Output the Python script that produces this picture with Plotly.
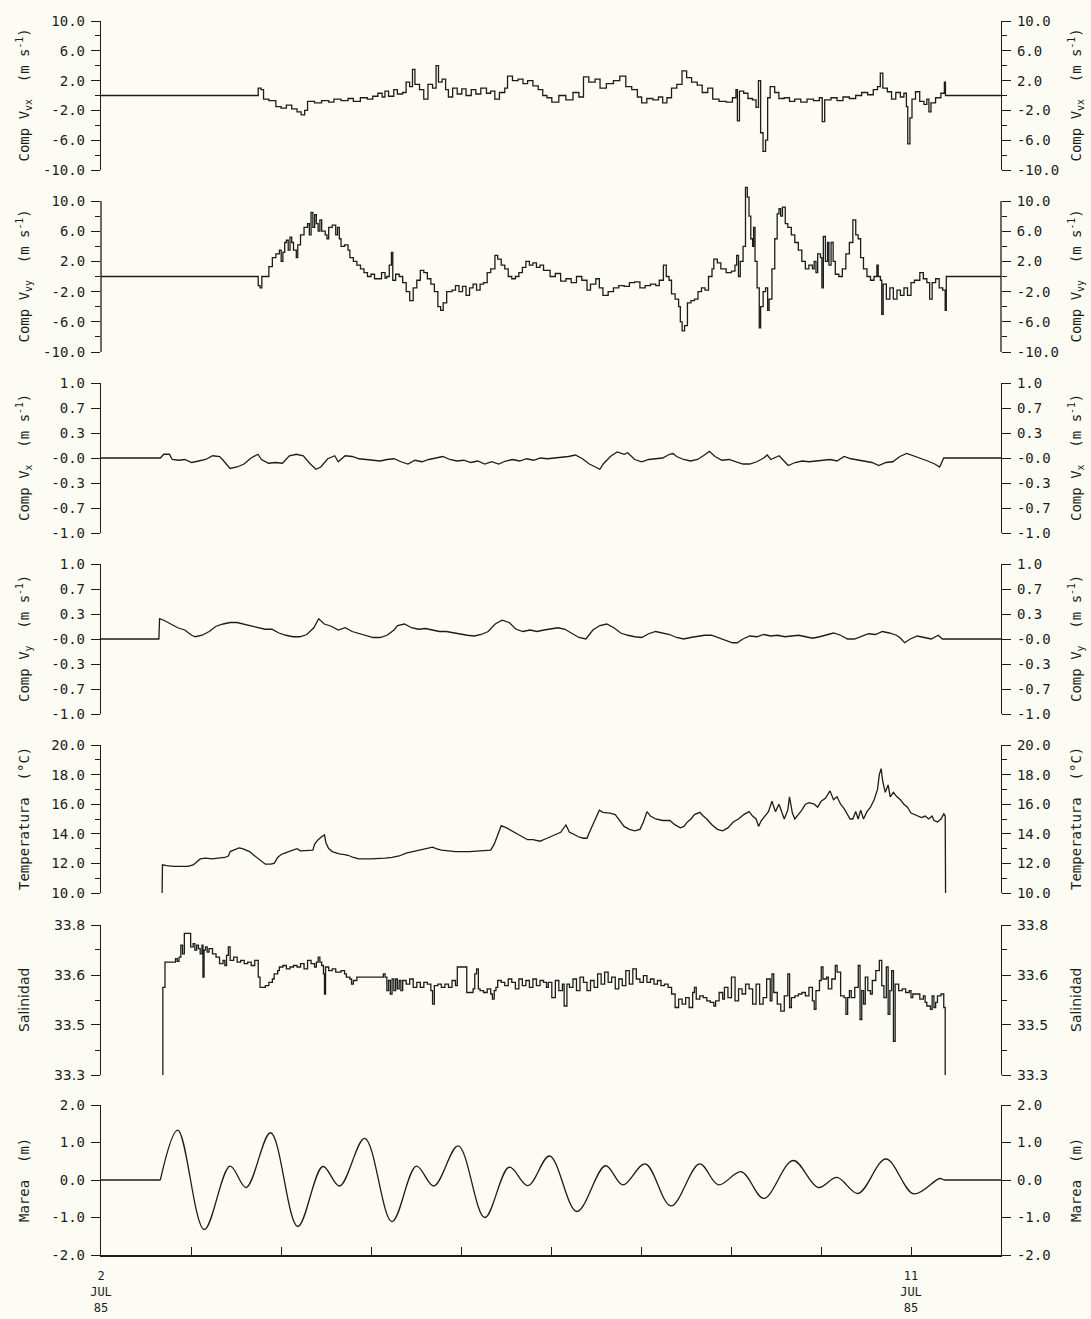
import plotly.graph_objects as go

# ---------------- data (time in days after 2 JUL 1985 00:00) ----------------
vvx_t = [0.0, 1.747, 1.778, 1.806, 1.865, 1.943, 2.001, 2.060, 2.119, 2.178,
         2.224, 2.263, 2.295, 2.373, 2.451, 2.530, 2.588, 2.667, 2.745, 2.804,
         2.882, 2.960, 3.019, 3.077, 3.124, 3.155, 3.195, 3.253, 3.293, 3.351,
         3.390, 3.429, 3.461, 3.488, 3.539, 3.586, 3.633, 3.684, 3.723, 3.750,
         3.790, 3.829, 3.860, 3.907, 3.958, 4.009, 4.056, 4.114, 4.165, 4.220,
         4.283, 4.329, 4.376, 4.427, 4.486, 4.517, 4.572, 4.634, 4.689, 4.740,
         4.799, 4.858, 4.908, 4.955,
         5.009, 5.087, 5.165, 5.244, 5.310, 5.361, 5.420, 5.490, 5.545, 5.615,
         5.694, 5.764, 5.831, 5.897, 5.960, 6.007, 6.065, 6.132, 6.194, 6.241,
         6.288, 6.339, 6.398, 6.456, 6.507, 6.562, 6.625, 6.680, 6.742, 6.797,
         6.867, 6.946, 7.016, 7.055, 7.071, 7.094, 7.141, 7.188, 7.239, 7.278,
         7.305, 7.329, 7.356, 7.384, 7.407, 7.435, 7.485, 7.532, 7.591, 7.650,
         7.708, 7.775, 7.845, 7.916, 7.982, 8.014, 8.041, 8.111, 8.178, 8.244,
         8.315, 8.385, 8.452, 8.518, 8.581, 8.628, 8.659, 8.687, 8.737, 8.784,
         8.831, 8.882, 8.921, 8.949, 8.964, 8.988, 9.011, 9.050, 9.097, 9.144,
         9.176, 9.199, 9.222, 9.273, 9.332, 9.371, 9.383, 10.0]
vvx_v = [0.0, 1.0, 0.8, -0.5, -0.7, -1.5, -1.7, -1.3, -1.8, -2.2,
         -2.6, -2.0, -0.8, -1.0, -0.7, -0.9, -0.5, -0.7, -0.4, -0.8,
         -0.3, -0.5, -0.1, 0.3, -0.2, 0.6, -0.1, 0.8, 0.2, 0.4,
         1.8, 1.2, 3.5, 1.5, 0.8, -0.5, 1.5, 1.0, 4.0, 1.8,
         2.2, 0.8, -0.2, 1.0, 0.2, 0.9, 0.0, 0.8, 0.2, 1.0,
         0.3, 0.6, -0.5, 0.4, 1.0, 2.6, 2.0, 2.2, 1.6, 2.0,
         1.3, 0.8, 0.0, -0.3,
         -0.9, 0.0, -0.6, 0.4, -0.2, 2.5, 1.8, 2.2, 1.0, 1.6,
         2.0, 2.6, 1.2, 0.8, -0.2, -1.0, -0.4, -0.6, -0.2, -1.0,
         -0.3, 1.0, 1.5, 3.3, 2.4, 1.8, 1.4, 0.4, 1.0, -0.5,
         -0.8, -0.9, -0.3, 0.8, -3.4, 0.6, 0.3, -0.4, -0.6, -1.6,
         2.0, -5.0, -7.5, -6.0, -0.3, 1.2, 0.4, -0.4, -0.3, -0.8,
         -0.5, -0.9, -0.5, -0.7, -0.3, -3.5, -0.6, -0.3, -0.7, -0.2,
         -0.4, 0.0, 0.4, 0.1, 0.8, 1.2, 3.0, 1.0, 0.5, -0.5,
         0.4, -0.2, 0.3, -1.5, -6.5, -3.0, -0.5, 0.5, -0.8, -1.2,
         -0.5, -2.2, -1.0, -0.3, 0.3, 1.8, 0.0, 0.0]

vvy_t = [0.0, 1.728, 1.747, 1.767, 1.787, 1.845, 1.865, 1.904, 1.943, 1.982,
         2.002, 2.021, 2.041, 2.060, 2.080, 2.100, 2.119, 2.139, 2.170, 2.186,
         2.217, 2.256, 2.295, 2.315, 2.334, 2.354, 2.374, 2.393, 2.413, 2.432,
         2.452, 2.491, 2.511, 2.530, 2.569, 2.608, 2.628, 2.648, 2.667, 2.706,
         2.745, 2.765, 2.804, 2.843, 2.883, 2.922, 2.961, 3.000, 3.039, 3.078,
         3.117, 3.156, 3.176, 3.203, 3.227, 3.242, 3.274, 3.313, 3.352, 3.391,
         3.430, 3.469, 3.509, 3.548, 3.587, 3.626, 3.665, 3.704, 3.743, 3.774,
         3.802, 3.841, 3.900, 3.939, 3.978, 4.017, 4.056, 4.095, 4.134, 4.173,
         4.212, 4.251, 4.291, 4.330, 4.377, 4.408, 4.447, 4.486, 4.525, 4.564,
         4.604, 4.643, 4.682, 4.721, 4.760, 4.799, 4.838, 4.878, 4.917,
         4.931, 4.990, 5.048, 5.107, 5.166, 5.224, 5.283, 5.342, 5.400, 5.439,
         5.498, 5.537, 5.577, 5.635, 5.694, 5.753, 5.812, 5.871, 5.929, 5.988,
         6.046, 6.105, 6.164, 6.203, 6.249, 6.281, 6.312, 6.339, 6.379, 6.418,
         6.437, 6.457, 6.484, 6.516, 6.555, 6.594, 6.633, 6.672, 6.711, 6.750,
         6.789, 6.809, 6.848, 6.887, 6.946, 7.005, 7.044, 7.063, 7.083, 7.103,
         7.134, 7.161, 7.181, 7.200, 7.220, 7.240, 7.251, 7.267, 7.290, 7.314,
         7.329, 7.357, 7.384, 7.407, 7.423, 7.455, 7.486, 7.513, 7.533, 7.552,
         7.572, 7.603, 7.631, 7.670, 7.709, 7.748, 7.787, 7.826, 7.865, 7.905,
         7.924, 7.944, 7.963, 7.994, 8.010, 8.026, 8.049, 8.073, 8.088, 8.112,
         8.135, 8.159, 8.198, 8.237, 8.276, 8.315, 8.354, 8.386, 8.413, 8.440,
         8.472, 8.511, 8.550, 8.589, 8.621, 8.636, 8.660, 8.675, 8.691, 8.726,
         8.765, 8.804, 8.844, 8.883, 8.922, 8.961, 9.000, 9.039, 9.098, 9.137,
         9.176, 9.207, 9.235, 9.274, 9.313, 9.352, 9.380, 9.392, 10.0]
vvy_v = [0.0, 0.0, -1.2, -1.5, 0.0, 0.0, 1.3, 2.5, 3.0, 3.5,
         2.0, 3.2, 4.5, 4.8, 3.5, 5.2, 4.5, 3.5, 2.5, 4.2,
         5.5, 6.5, 7.0, 5.5, 8.5, 6.5, 8.2, 7.0, 6.0, 7.5,
         6.0, 5.5, 5.0, 6.5, 6.8, 5.5, 6.5, 5.0, 4.0, 4.2,
         3.5, 2.5, 2.0, 1.5, 1.0, 0.5, 0.0, 0.3, -0.3, -0.3,
         0.5, -0.2, 0.0, 1.5, 3.2, -0.5, 0.3, 0.0, -0.8, -2.0,
         -3.2, -1.5, -0.5, 0.8, 0.5, -0.3, -1.0, -2.0, -4.0, -4.5,
         -3.5, -2.0, -1.8, -1.2, -2.0, -1.3, -2.5, -1.5, -1.0, -1.8,
         -1.0, -0.8, 0.5, 1.0, 2.8, 2.3, 1.5, 1.0, 0.0, -0.3,
         0.0, 0.5, 1.2, 2.0, 1.5, 1.8, 1.2, 1.5, 0.8,
         0.8, 0.0, 0.4, -0.6, -0.3, -0.8, 0.0, -0.5, -1.8, -1.0,
         -0.3, -1.5, -2.5, -2.0, -1.5, -1.2, -1.3, -0.8, -0.7, -1.5,
         -1.2, -1.0, -1.2, -0.5, 1.5, 0.0, -0.5, -2.3, -3.0, -4.0,
         -6.0, -7.2, -6.5, -3.5, -3.2, -3.0, -2.0, -1.5, -1.8, 0.0,
         1.0, 2.3, 1.8, 1.0, 0.5, 0.7, 1.5, 2.8, 0.0, 2.0,
         4.0, 11.8, 10.5, 8.0, 5.0, 4.0, 6.5, 2.0, -1.5, -6.8,
         -4.0, -2.0, -1.5, -4.5, -3.0, 1.0, 5.0, 8.3, 9.0, 8.0,
         9.2, 7.0, 6.5, 5.5, 4.5, 3.5, 2.0, 1.0, 1.5, 1.0,
         2.0, 0.5, 3.0, 2.5, -1.5, 5.3, 2.0, 4.5, 1.5, 4.5,
         2.0, 0.3, 0.0, 1.0, 3.0, 4.5, 7.5, 5.5, 5.0, 2.5,
         1.0, 0.0, -0.5, 0.0, 1.5, 0.0, -0.5, -5.0, -1.0, -3.0,
         -1.5, -3.0, -1.8, -2.5, -1.5, -2.5, -0.8, -0.5, 0.5, -0.3,
         -0.8, -3.0, -0.8, -0.3, -1.5, -1.8, -4.5, 0.0, 0.0]

vx_t = [0.0, 0.659, 0.698, 0.760, 0.791, 0.868, 0.930, 1.008, 1.085, 1.163,
        1.240, 1.318, 1.357, 1.434, 1.512, 1.589, 1.667, 1.744, 1.783, 1.860,
        1.938, 2.016, 2.093, 2.171, 2.248, 2.326, 2.388, 2.442, 2.519, 2.597,
        2.636, 2.713, 2.791, 2.868, 2.946, 3.023, 3.101, 3.178, 3.256, 3.333,
        3.411, 3.488, 3.566, 3.643, 3.721, 3.798, 3.876, 3.953, 4.031, 4.109,
        4.186, 4.264, 4.341, 4.419, 4.496, 4.574, 4.651, 4.729, 4.806, 4.884,
        4.961, 5.039, 5.116, 5.194, 5.271, 5.349, 5.426, 5.504, 5.543, 5.581,
        5.659, 5.736, 5.814, 5.853, 5.930, 6.008, 6.085, 6.163, 6.240, 6.318,
        6.357, 6.395, 6.473, 6.550, 6.628, 6.705, 6.760, 6.822, 6.899, 6.977,
        7.054, 7.132, 7.209, 7.287, 7.364, 7.403, 7.442, 7.535, 7.597, 7.636,
        7.713, 7.791, 7.868, 7.946, 8.023, 8.101, 8.178, 8.256, 8.333, 8.411,
        8.488, 8.566, 8.643, 8.721, 8.798, 8.876, 8.953, 9.031, 9.109, 9.186,
        9.264, 9.318, 9.364, 10.0]
vx_v = [0.0, 0.0, 0.05, 0.05, -0.02, -0.03, -0.02, -0.06, -0.04, -0.02,
        0.03, 0.02, -0.03, -0.14, -0.12, -0.08, 0.0, 0.05, -0.02, -0.07,
        -0.06, -0.07, 0.03, 0.05, 0.03, -0.08, -0.15, -0.12, -0.01, 0.03,
        -0.05, 0.03, 0.02, -0.01, -0.02, -0.03, -0.04, -0.02, -0.01, -0.05,
        -0.08, -0.03, -0.05, -0.02, 0.0, 0.02, -0.02, -0.04, -0.03, -0.06,
        -0.04, -0.08, -0.05, -0.08, -0.04, -0.02, -0.04, -0.01, -0.03, 0.0,
        -0.01, 0.0, 0.0, 0.02, 0.04, -0.01, -0.08, -0.13, -0.15, -0.08,
        0.02, 0.08, 0.05, 0.07, -0.02, -0.05, -0.02, -0.01, 0.0, 0.05,
        0.06, 0.02, -0.02, -0.04, -0.02, 0.04, 0.09, 0.02, -0.03, -0.02,
        -0.05, -0.08, -0.08, -0.05, 0.0, 0.04, -0.02, 0.03, -0.05, -0.10,
        -0.06, -0.04, -0.05, -0.04, -0.03, -0.02, -0.04, 0.02, -0.01, -0.03,
        -0.04, -0.06, -0.10, -0.06, -0.05, 0.02, 0.06, 0.03, 0.0, -0.04,
        -0.08, -0.12, 0.0, 0.0]

vy_t = [0.0, 0.643, 0.651, 0.698, 0.775, 0.853, 0.930, 1.008, 1.047, 1.124,
        1.202, 1.279, 1.357, 1.434, 1.512, 1.589, 1.667, 1.744, 1.822, 1.899,
        1.977, 2.054, 2.132, 2.209, 2.287, 2.364, 2.419, 2.481, 2.558, 2.636,
        2.713, 2.791, 2.868, 2.946, 3.023, 3.101, 3.178, 3.256, 3.295, 3.372,
        3.450, 3.527, 3.605, 3.682, 3.760, 3.837, 3.915, 3.992, 4.070, 4.147,
        4.225, 4.302, 4.380, 4.457, 4.535, 4.612, 4.690, 4.767, 4.845, 4.922,
        5.000, 5.078, 5.155, 5.233, 5.310, 5.388, 5.465, 5.543, 5.620, 5.698,
        5.775, 5.853, 5.930, 6.008, 6.085, 6.163, 6.240, 6.318, 6.395, 6.473,
        6.550, 6.628, 6.705, 6.783, 6.860, 6.938, 7.016, 7.070, 7.132, 7.209,
        7.287, 7.364, 7.442, 7.519, 7.597, 7.674, 7.752, 7.829, 7.907, 7.984,
        8.062, 8.140, 8.217, 8.295, 8.372, 8.450, 8.527, 8.605, 8.682, 8.760,
        8.837, 8.876, 8.930, 8.992, 9.070, 9.147, 9.225, 9.302, 9.349, 10.0]
vy_v = [0.0, 0.0, 0.27, 0.25, 0.20, 0.15, 0.12, 0.05, 0.03, 0.05,
        0.10, 0.17, 0.20, 0.22, 0.22, 0.20, 0.17, 0.15, 0.13, 0.13,
        0.08, 0.05, 0.03, 0.03, 0.06, 0.15, 0.27, 0.20, 0.17, 0.12,
        0.15, 0.10, 0.07, 0.04, 0.02, 0.02, 0.05, 0.12, 0.18, 0.20,
        0.15, 0.13, 0.14, 0.12, 0.10, 0.10, 0.08, 0.06, 0.05, 0.04,
        0.06, 0.10, 0.20, 0.25, 0.22, 0.13, 0.10, 0.12, 0.10, 0.12,
        0.13, 0.15, 0.13, 0.08, 0.02, 0.0, 0.12, 0.18, 0.20, 0.15,
        0.08, 0.05, 0.03, 0.02, 0.07, 0.10, 0.08, 0.06, 0.02, 0.0,
        0.02, 0.04, 0.05, 0.05, 0.02, -0.02, -0.05, -0.05, 0.0, 0.04,
        0.03, 0.06, 0.04, 0.05, 0.03, 0.04, 0.05, 0.03, 0.01, 0.03,
        0.05, 0.08, 0.05, 0.0, 0.0, 0.04, 0.07, 0.06, 0.10, 0.08,
        0.05, 0.02, -0.05, 0.0, 0.04, 0.02, 0.0, 0.05, 0.0, 0.0]

temp_t = [0.679, 0.683, 0.730, 0.808, 0.965, 1.024, 1.063, 1.102, 1.161, 1.239,
          1.298, 1.376, 1.415, 1.435, 1.474, 1.533, 1.572, 1.611, 1.650, 1.689,
          1.747, 1.787, 1.826, 1.884, 1.924, 1.963, 2.002, 2.041, 2.080, 2.139,
          2.178, 2.217, 2.295, 2.354, 2.374, 2.413, 2.452, 2.483, 2.499, 2.530,
          2.569, 2.608, 2.648, 2.706, 2.745, 2.804, 2.863, 3.000, 3.078, 3.156,
          3.234, 3.313, 3.391, 3.469, 3.548, 3.626, 3.684, 3.723, 3.782, 3.861,
          3.939, 4.095, 4.251, 4.330, 4.369, 4.408, 4.447, 4.506, 4.564, 4.623,
          4.682, 4.740, 4.799, 4.878, 4.937,
          5.029, 5.107, 5.166, 5.205, 5.244, 5.302, 5.361, 5.400, 5.420, 5.459,
          5.498, 5.537, 5.577, 5.655, 5.714, 5.753, 5.812, 5.871, 5.930, 5.988,
          6.027, 6.066, 6.105, 6.164, 6.242, 6.321, 6.379, 6.438, 6.477, 6.516,
          6.555, 6.594, 6.653, 6.692, 6.731, 6.790, 6.849, 6.907, 6.966, 7.025,
          7.083, 7.142, 7.201, 7.240, 7.279, 7.306, 7.337, 7.377, 7.416, 7.455,
          7.494, 7.533, 7.564, 7.592, 7.631, 7.650, 7.682, 7.709, 7.748, 7.787,
          7.827, 7.866, 7.925, 7.963, 8.002, 8.049, 8.100, 8.139, 8.178, 8.218,
          8.257, 8.296, 8.323, 8.354, 8.386, 8.413, 8.441, 8.472, 8.511, 8.550,
          8.590, 8.628, 8.648, 8.668, 8.687, 8.714, 8.746, 8.769, 8.804, 8.844,
          8.882, 8.921, 8.961, 9.000, 9.039, 9.078, 9.117, 9.157, 9.196, 9.235,
          9.255, 9.294, 9.333, 9.364, 9.380, 9.384]
temp_v = [10.0, 11.9, 11.85, 11.8, 11.8, 11.9, 12.1, 12.3, 12.35, 12.3,
          12.35, 12.4, 12.5, 12.8, 12.9, 13.05, 13.0, 12.9, 12.8, 12.6,
          12.3, 12.1, 11.95, 11.95, 12.0, 12.4, 12.6, 12.7, 12.8, 12.9,
          13.0, 12.85, 12.85, 12.9, 13.3, 13.6, 13.8, 13.93, 13.4, 13.0,
          12.8, 12.7, 12.65, 12.6, 12.55, 12.4, 12.3, 12.3, 12.3, 12.35,
          12.4, 12.5, 12.7, 12.8, 12.9, 13.0, 13.1, 13.0, 12.9, 12.85,
          12.8, 12.8, 12.85, 12.9, 13.3, 14.0, 14.55, 14.4, 14.2, 14.0,
          13.8, 13.6, 13.6, 13.5, 13.65,
          13.9, 14.1, 14.6, 14.1, 14.0, 13.8, 13.7, 13.7, 14.0, 14.5,
          15.0, 15.6, 15.45, 15.4, 15.3, 15.0, 14.5, 14.3, 14.2, 14.3,
          14.8, 15.5, 15.2, 15.0, 14.9, 14.9, 14.6, 14.4, 14.5, 14.8,
          15.0, 15.3, 15.45, 15.2, 15.0, 14.6, 14.3, 14.2, 14.4, 14.8,
          15.0, 15.3, 15.5, 15.2, 15.0, 14.5, 14.9, 15.2, 15.5, 16.2,
          15.5, 16.0, 15.4, 15.0, 15.6, 16.5, 15.4, 15.0, 15.3, 15.6,
          16.0, 16.1, 16.0, 15.8, 16.2, 16.4, 16.9, 16.3, 16.5, 16.0,
          15.7, 15.3, 15.0, 15.0, 15.5, 15.0, 15.6, 15.0, 15.5, 15.8,
          16.3, 17.0, 18.0, 18.4, 17.5, 16.8, 17.3, 16.5, 16.8, 16.5,
          16.3, 16.0, 15.8, 15.4, 15.3, 15.2, 15.1, 15.2, 15.0, 15.2,
          14.9, 14.8, 15.0, 15.35, 15.2, 10.0]

sal_t = [0.679, 0.687, 0.711, 0.808, 0.828, 0.847, 0.867, 0.887, 0.906, 0.926,
         0.984, 0.996, 1.024, 1.043, 1.063, 1.083, 1.102, 1.122, 1.133, 1.145,
         1.161, 1.180, 1.200, 1.239, 1.278, 1.317, 1.356, 1.376, 1.395, 1.415,
         1.435, 1.474, 1.513, 1.552, 1.591, 1.630, 1.669, 1.708, 1.747, 1.767,
         1.826, 1.865, 1.904, 1.924, 1.963, 1.982, 2.021, 2.060, 2.100, 2.139,
         2.178, 2.217, 2.256, 2.295, 2.334, 2.373, 2.393, 2.413, 2.432, 2.452,
         2.472, 2.483, 2.495, 2.530, 2.569, 2.608, 2.667, 2.706, 2.726, 2.765,
         2.784, 2.804, 2.843, 3.117, 3.137, 3.156, 3.176, 3.195, 3.215, 3.234,
         3.254, 3.274, 3.293, 3.313, 3.332, 3.352, 3.391, 3.430, 3.469, 3.509,
         3.548, 3.587, 3.626, 3.665, 3.684, 3.704, 3.743, 3.782, 3.821, 3.861,
         3.900, 3.939, 3.959, 4.056, 4.064, 4.134, 4.153, 4.173, 4.193, 4.212,
         4.251, 4.291, 4.330, 4.349, 4.369, 4.388, 4.408, 4.447, 4.486, 4.525,
         4.564, 4.604, 4.643, 4.682, 4.721, 4.760, 4.799, 4.838, 4.878, 4.917,
         4.950, 4.970, 5.009, 5.048, 5.087, 5.127, 5.146, 5.177, 5.205, 5.244,
         5.283, 5.322, 5.361, 5.400, 5.439, 5.479, 5.518, 5.557, 5.596, 5.635,
         5.674, 5.714, 5.753, 5.792, 5.831, 5.870, 5.909, 5.948, 5.988, 6.027,
         6.066, 6.105, 6.144, 6.183, 6.222, 6.261, 6.301, 6.340, 6.379, 6.418,
         6.457, 6.496, 6.535, 6.574, 6.594, 6.614, 6.653, 6.692, 6.731, 6.770,
         6.809, 6.829, 6.868, 6.907, 6.927, 6.966, 7.005, 7.045, 7.084, 7.123,
         7.162, 7.201, 7.240, 7.279, 7.318, 7.357, 7.396, 7.436, 7.455, 7.475,
         7.514, 7.553, 7.592, 7.631, 7.651, 7.671, 7.710, 7.749, 7.788, 7.827,
         7.866, 7.905, 7.925, 7.944, 7.983, 8.003, 8.022, 8.062, 8.081, 8.120,
         8.159, 8.179, 8.218, 8.257, 8.277, 8.296, 8.316, 8.336, 8.375, 8.414,
         8.434, 8.453, 8.473, 8.492, 8.520, 8.550, 8.570, 8.609, 8.648, 8.675,
         8.699, 8.726, 8.746, 8.765, 8.785, 8.805, 8.824, 8.863, 8.902, 8.941,
         8.981, 9.000, 9.020, 9.059, 9.098, 9.137, 9.157, 9.176, 9.216, 9.235,
         9.255, 9.274, 9.294, 9.333, 9.364, 9.380]
sal_v = [33.300, 33.592, 33.676, 33.676, 33.688, 33.679, 33.693, 33.733, 33.704, 33.772,
         33.772, 33.727, 33.738, 33.716, 33.733, 33.721, 33.704, 33.733, 33.626, 33.716,
         33.727, 33.710, 33.721, 33.704, 33.693, 33.671, 33.682, 33.665, 33.699, 33.727,
         33.682, 33.693, 33.676, 33.682, 33.671, 33.676, 33.665, 33.682, 33.626, 33.592,
         33.598, 33.609, 33.620, 33.637, 33.648, 33.660, 33.665, 33.654, 33.660, 33.665,
         33.660, 33.671, 33.654, 33.682, 33.671, 33.660, 33.676, 33.693, 33.676, 33.665,
         33.637, 33.570, 33.660, 33.648, 33.654, 33.643, 33.648, 33.637, 33.626, 33.620,
         33.603, 33.615, 33.626, 33.626, 33.637, 33.626, 33.581, 33.615, 33.570, 33.620,
         33.581, 33.620, 33.587, 33.615, 33.581, 33.615, 33.603, 33.620, 33.592, 33.609,
         33.592, 33.609, 33.603, 33.581, 33.536, 33.598, 33.603, 33.592, 33.603, 33.592,
         33.615, 33.598, 33.660, 33.660, 33.575, 33.587, 33.637, 33.654, 33.587, 33.581,
         33.575, 33.587, 33.570, 33.553, 33.581, 33.592, 33.615, 33.609, 33.598, 33.620,
         33.609, 33.587, 33.620, 33.598, 33.615, 33.592, 33.620, 33.598, 33.615, 33.609,
         33.592, 33.609, 33.558, 33.615, 33.581, 33.603, 33.530, 33.603, 33.592, 33.620,
         33.581, 33.626, 33.609, 33.581, 33.615, 33.592, 33.637, 33.603, 33.643, 33.609,
         33.626, 33.587, 33.620, 33.598, 33.648, 33.603, 33.654, 33.620, 33.609, 33.631,
         33.609, 33.620, 33.603, 33.615, 33.598, 33.603, 33.592, 33.570, 33.525, 33.553,
         33.536, 33.558, 33.525, 33.575, 33.592, 33.553, 33.564, 33.558, 33.547, 33.542,
         33.530, 33.547, 33.575, 33.553, 33.592, 33.558, 33.626, 33.547, 33.587, 33.570,
         33.603, 33.587, 33.536, 33.603, 33.536, 33.558, 33.620, 33.547, 33.637, 33.575,
         33.536, 33.513, 33.564, 33.637, 33.525, 33.558, 33.564, 33.570, 33.575, 33.564,
         33.592, 33.547, 33.519, 33.581, 33.615, 33.660, 33.620, 33.626, 33.587, 33.620,
         33.665, 33.643, 33.564, 33.558, 33.502, 33.558, 33.581, 33.558, 33.592, 33.665,
         33.485, 33.581, 33.536, 33.626, 33.581, 33.570, 33.615, 33.648, 33.682, 33.598,
         33.558, 33.660, 33.502, 33.581, 33.648, 33.412, 33.603, 33.581, 33.587, 33.575,
         33.581, 33.558, 33.570, 33.570, 33.553, 33.564, 33.542, 33.530, 33.519, 33.564,
         33.525, 33.542, 33.564, 33.570, 33.525, 33.300]

marea_t = [0.0, 0.659, 0.853, 1.147, 1.434, 1.612, 1.884, 2.186, 2.465, 2.651,
           2.930, 3.233, 3.504, 3.698, 3.969, 4.264, 4.535, 4.744, 4.984, 5.287,
           5.605, 5.798, 6.047, 6.333, 6.651, 6.860, 7.116, 7.364, 7.690, 7.969,
           8.178, 8.411, 8.721, 9.031, 9.318, 9.364, 10.0]
marea_v = [0.0, 0.0, 1.33, -1.32, 0.37, -0.20, 1.26, -1.24, 0.36, -0.16,
           1.11, -1.11, 0.37, -0.16, 0.91, -1.00, 0.34, -0.15, 0.64, -0.84,
           0.38, -0.13, 0.43, -0.69, 0.43, -0.13, 0.22, -0.49, 0.52, -0.20,
           0.07, -0.36, 0.56, -0.37, 0.04, 0.0, 0.0]

# tick values / labels
vv_ticks = [-10, -6, -2, 2, 6, 10]
vv_labels = ['-10.0', '-6.0', '-2.0', '2.0', '6.0', '10.0']
vv_minor = [-8, -4, 0, 4, 8]
v_ticks = [-1.0, -0.6667, -0.3333, 0.0, 0.3333, 0.6667, 1.0]
v_labels = ['-1.0', '-0.7', '-0.3', '-0.0', '0.3', '0.7', '1.0']
temp_ticks = [10, 12, 14, 16, 18, 20]
temp_labels = ['10.0', '12.0', '14.0', '16.0', '18.0', '20.0']
temp_minor = [11, 13, 15, 17, 19]
sal_ticks = [33.3, 33.4667, 33.6333, 33.8]
sal_labels = ['33.3', '33.5', '33.6', '33.8']
sal_minor = [33.3833, 33.55, 33.7167]
marea_ticks = [-2, -1, 0, 1, 2]
marea_labels = ['-2.0', '-1.0', '0.0', '1.0', '2.0']
day_ticks = [0, 1, 2, 3, 4, 5, 6, 7, 8, 9, 10]
day_labels = ['2<br>JUL<br>85', ' ', ' ', ' ', ' ', ' ', ' ', ' ', ' ', '11<br>JUL<br>85', ' ']

titles = ['Comp V<sub>vx</sub>  (m s<sup>-1</sup>)',
          'Comp V<sub>vy</sub>  (m s<sup>-1</sup>)',
          'Comp V<sub>x</sub>  (m s<sup>-1</sup>)',
          'Comp V<sub>y</sub>  (m s<sup>-1</sup>)',
          'Temperatura  (°C)',
          'Salinidad',
          'Marea  (m)']

# ---------------- styling / layout ----------------
INK = '#1c1c1c'
BG = '#fcfcf4'
MONO = 'DejaVu Sans Mono'
SANS = 'DejaVu Sans'
W, H = 1091, 1319
ML, MR, MT, MB = 101, 90, 15, 64


def frac(ypx):
    return (H - MB - ypx) / (H - MT - MB)


panels = [
    dict(t=vvx_t, v=vvx_v, shape='hv', rng=[-10, 10], tv=vv_ticks, tt=vv_labels, mv=vv_minor, px=(21, 170), font=MONO),
    dict(t=vvy_t, v=vvy_v, shape='hv', rng=[-10, 12], tv=vv_ticks, tt=vv_labels, mv=vv_minor, px=(201, 352), font=MONO, frame=(-10, 10)),
    dict(t=vx_t, v=vx_v, shape='linear', rng=[-1, 1], tv=v_ticks, tt=v_labels, mv=None, px=(383, 533), font=MONO),
    dict(t=vy_t, v=vy_v, shape='linear', rng=[-1, 1], tv=v_ticks, tt=v_labels, mv=None, px=(564, 714), font=MONO),
    dict(t=temp_t, v=temp_v, shape='linear', rng=[10, 20], tv=temp_ticks, tt=temp_labels, mv=temp_minor, px=(745, 893), font=MONO),
    dict(t=sal_t, v=sal_v, shape='hv', rng=[33.3, 33.8], tv=sal_ticks, tt=sal_labels, mv=sal_minor, px=(925, 1075), font=SANS),
    dict(t=marea_t, v=marea_v, shape='spline', rng=[-2, 2], tv=marea_ticks, tt=marea_labels, mv=None, px=(1105, 1255), font=MONO),
]

fig = go.Figure()
layout = dict(
    width=W, height=H, margin=dict(l=ML, r=MR, t=MT, b=MB, autoexpand=False),
    paper_bgcolor=BG, plot_bgcolor=BG, showlegend=False,
    xaxis=dict(domain=[0, 1], anchor='y7', range=[0, 10], tickmode='array',
               tickvals=day_ticks, ticktext=day_labels, ticks='inside', ticklen=8,
               tickwidth=1.2, tickcolor=INK, showline=True, linecolor=INK, linewidth=1.8,
               showgrid=False, zeroline=False, automargin=False, ticklabelstandoff=9,
               tickfont=dict(family=MONO, size=12, color=INK)),
)
shapes = []
annotations = []
n = len(panels)
for i, p in enumerate(panels, start=1):
    top_px, bot_px = p['px']
    lo, hi = p['rng']
    span = bot_px - top_px
    fr = p.get('frame', (lo, hi))
    px_per = span / (fr[1] - fr[0])
    dom_top = top_px - (hi - fr[1]) * px_per
    dom = [frac(bot_px), min(1.0, frac(dom_top))]
    framed = 'frame' not in p

    common = dict(range=[lo, hi], tickmode='array', tickvals=p['tv'], ticktext=p['tt'],
                  ticks='outside', ticklen=9, tickwidth=1.2, tickcolor=INK,
                  showline=framed, linecolor=INK, linewidth=1.3,
                  showgrid=False, zeroline=False, ticklabelstandoff=3, automargin=False,
                  tickfont=dict(family=p['font'], size=14, color=INK))
    if p['mv']:
        common['minor'] = dict(tickmode='array', tickvals=p['mv'], ticks='outside',
                               ticklen=5, tickwidth=1.1, tickcolor=INK, showgrid=False)
    layout[f'yaxis{i}'] = dict(domain=dom, anchor='x', side='left', **common)
    layout[f'yaxis{i + n}'] = dict(overlaying=f'y{i}', anchor='x', side='right', **common)

    if not framed:
        for xe in (0, 1):
            shapes.append(dict(type='line', xref='x domain', yref=f'y{i}', x0=xe, x1=xe,
                               y0=fr[0], y1=fr[1], line=dict(color=INK, width=1.3)))

    line = dict(color=INK, width=1.3, shape=p['shape'])
    if p['shape'] == 'spline':
        # flat (unrecorded) ends drawn straight, recorded tide drawn smooth
        flat = dict(color=INK, width=1.3, shape='linear')
        fig.add_trace(go.Scatter(x=p['t'][:2], y=p['v'][:2], mode='lines', line=flat,
                                 xaxis='x', yaxis=f'y{i}', hoverinfo='skip'))
        fig.add_trace(go.Scatter(x=p['t'][-2:], y=p['v'][-2:], mode='lines', line=flat,
                                 xaxis='x', yaxis=f'y{i}', hoverinfo='skip'))
        line['smoothing'] = 1.0
        fig.add_trace(go.Scatter(x=p['t'][1:-1], y=p['v'][1:-1], mode='lines', line=line,
                                 xaxis='x', yaxis=f'y{i}', hoverinfo='skip'))
    else:
        fig.add_trace(go.Scatter(x=p['t'], y=p['v'], mode='lines', line=line,
                                 xaxis='x', yaxis=f'y{i}', hoverinfo='skip'))
    # empty trace so that the right-hand axis is drawn
    fig.add_trace(go.Scatter(x=[], y=[], mode='lines', xaxis='x', yaxis=f'y{i + n}',
                             hoverinfo='skip'))

    ymid = frac((top_px + bot_px) / 2)
    tfont = dict(family=p['font'], size=14, color=INK)
    annotations.append(dict(text=titles[i - 1], xref='paper', yref='paper',
                            x=(24 - ML) / (W - ML - MR), y=ymid, textangle=-90,
                            showarrow=False, xanchor='center', yanchor='middle', font=tfont))
    annotations.append(dict(text=titles[i - 1], xref='paper', yref='paper',
                            x=(1076 - ML) / (W - ML - MR), y=ymid, textangle=-90,
                            showarrow=False, xanchor='center', yanchor='middle', font=tfont))

layout['shapes'] = shapes
layout['annotations'] = annotations
fig.update_layout(**layout)
fig.write_html('out.html', config={'displayModeBar': False},
               post_script="document.body.style.margin='0';"
                           "document.body.style.background='#fcfcf4';")
